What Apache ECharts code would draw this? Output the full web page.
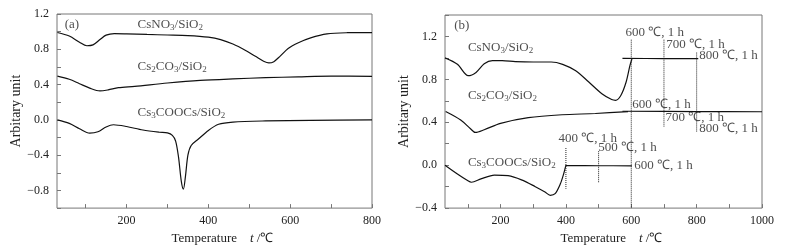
<!DOCTYPE html>
<html>
<head>
<meta charset="utf-8">
<script src="https://cdn.jsdelivr.net/npm/echarts@6/dist/echarts.min.js"></script>
<style>
  html, body { margin: 0; padding: 0; background: #fff; }
  #chart { width: 792px; height: 250px; }
</style>
</head>
<body>
<div id="chart"></div>
<script>
// panel (a): DTA curves, [temperature, signal]
var aNitrate = [[31,0.99],[60,0.95],[85,0.88],[103,0.84],[118,0.85],[135,0.91],[150,0.96],[170,0.978],[200,0.975],[250,0.968],[300,0.962],[350,0.955],[400,0.937],[430,0.91],[460,0.86],[490,0.79],[515,0.72],[535,0.665],[548,0.645],[560,0.66],[575,0.72],[595,0.81],[620,0.875],[650,0.93],[690,0.975],[740,0.988],[800,0.99]];
var aCarbonate = [[31,0.496],[60,0.46],[85,0.41],[110,0.36],[135,0.328],[155,0.34],[180,0.365],[220,0.38],[300,0.418],[380,0.448],[460,0.465],[540,0.478],[620,0.488],[700,0.496],[800,0.494]];
var aAcetate = [[31,0.0],[60,-0.04],[85,-0.1],[110,-0.15],[130,-0.135],[150,-0.08],[168,-0.055],[200,-0.075],[240,-0.115],[280,-0.14],[300,-0.148],[312,-0.175],[320,-0.24],[327,-0.42],[334,-0.7],[339,-0.785],[344,-0.64],[350,-0.4],[358,-0.29],[375,-0.22],[400,-0.12],[425,-0.05],[460,-0.025],[540,-0.012],[650,-0.005],[800,0.0]];

// panel (b): heating up to a hold temperature, then isothermal parts
var bNitrate = [[30,1.0],[68,0.94],[101,0.834],[125,0.865],[150,0.945],[175,0.975],[205,0.975],[245,0.966],[300,0.962],[355,0.962],[390,0.94],[430,0.88],[470,0.775],[510,0.666],[540,0.612],[552,0.605],[568,0.65],[584,0.773],[596,0.93],[602,0.99]];
var bNitrateHold = [[573,0.995],[700,0.994],[805,0.993]];
var bCarbonate = [[32,0.5],[78,0.421],[108,0.34],[123,0.305],[150,0.33],[200,0.39],[285,0.443],[388,0.47],[490,0.482],[590,0.5]];
var bCarbonateHold = [[573,0.503],[800,0.5],[1000,0.498]];
var bAcetate = [[30,0.0],[68,-0.082],[99,-0.143],[111,-0.159],[140,-0.128],[181,-0.092],[223,-0.098],[264,-0.137],[305,-0.198],[336,-0.25],[352,-0.281],[367,-0.266],[383,-0.174],[393,-0.082],[400,0.0]];
var bAcetateHold = [[400,-0.004],[500,-0.005],[602,-0.006]];

// dotted markers: [x, yTop, yBottom]
var bMarkers = [[400,0.16,-0.22],[500,0.13,-0.16],[600,1.17,-0.4],[700,1.17,0.36],[800,1.05,0.31]];

// text: [x, y, text]
var aLabels = [[49,1.08,'(a)'],[227,1.08,'CsNO{s|3}/SiO{s|2}'],[227,0.6,'Cs{s|2}CO{s|3}/SiO{s|2}'],[227,0.08,'Cs{s|3}COOCs/SiO{s|2}']];
var bLabels = [[58,1.3,'(b)'],[100,1.093,'CsNO{s|3}/SiO{s|2}'],[100,0.646,'Cs{s|2}CO{s|3}/SiO{s|2}'],[100,0.025,'Cs{s|3}COOCs/SiO{s|2}']];
var bHolds = [[582,1.24,'600 ℃, 1 h'],[707,1.12,'700 ℃, 1 h'],[808,1.02,'800 ℃, 1 h'],[603,0.565,'600 ℃, 1 h'],[705,0.446,'700 ℃, 1 h'],[808,0.34,'800 ℃, 1 h'],[377,0.247,'400 ℃, 1 h'],[499,0.162,'500 ℃, 1 h'],[609,-0.006,'600 ℃, 1 h']];

var aTicks = [100,200,300,400,500,600,700,800];
var aTickLabels = [200,400,600,800];
var bTicks = [100,200,300,400,500,600,700,800,900,1000];
var bTickLabels = [200,400,600,800,1000];

var font = 'Liberation Serif';
var frame = '#777';

function yLabel(v) {
    var q = v / 0.4;
    if (Math.abs(q - Math.round(q)) > 1e-6) return '';
    var s = Math.abs(v).toFixed(1);
    return v < -1e-9 ? '\u2212' + s : s;
}

function xAxisOf(idx, max, ticks, labels) {
    return {
        type: 'value', gridIndex: idx, min: 30, max: max,
        name: 'Temperature    {i|t} /℃', nameLocation: 'middle', nameGap: 21,
        nameTextStyle: { fontFamily: font, fontSize: 13, color: '#222', padding: [0, 0, 0, 16],
            rich: { i: { fontFamily: font, fontStyle: 'italic', fontSize: 13, color: '#222' } } },
        axisLine: { show: false, onZero: false },
        axisTick: { inside: true, length: 4, lineStyle: { color: frame }, customValues: ticks },
        axisLabel: { fontFamily: font, fontSize: 12, color: '#222', margin: 7, customValues: labels,
            formatter: function (v) { return String(v); } },
        splitLine: { show: false }
    };
}

function yAxisOf(idx, min, max, gap) {
    return {
        type: 'value', gridIndex: idx, min: min, max: max, interval: 0.2,
        name: 'Arbitary unit', nameLocation: 'middle', nameGap: gap,
        nameTextStyle: { fontFamily: font, fontSize: 14, color: '#222' },
        axisLine: { show: false, onZero: false },
        axisTick: { inside: true, length: 4, lineStyle: { color: frame } },
        axisLabel: { fontFamily: font, fontSize: 12, color: '#222', margin: 8, formatter: yLabel },
        splitLine: { show: false }
    };
}

function curve(idx, data) {
    return {
        type: 'line', xAxisIndex: idx, yAxisIndex: idx, data: data,
        showSymbol: false, smooth: 0.3, silent: true,
        lineStyle: { color: '#111', width: 1.2 }
    };
}

function texts(idx, data) {
    return {
        type: 'scatter', xAxisIndex: idx, yAxisIndex: idx, symbolSize: 0, silent: true,
        data: data.map(function (d) { return { value: [d[0], d[1]], name: d[2] }; }),
        label: {
            show: true, position: 'right', distance: 0, formatter: '{b}',
            fontFamily: font, fontSize: 13, color: '#222', lineHeight: 15,
            rich: { s: { fontFamily: font, fontSize: 9, lineHeight: 9, verticalAlign: 'bottom', color: '#222' } }
        }
    };
}

var series = [
    curve(0, aNitrate), curve(0, aCarbonate), curve(0, aAcetate),
    curve(1, bNitrate), curve(1, bNitrateHold), curve(1, bCarbonate),
    curve(1, bCarbonateHold), curve(1, bAcetate), curve(1, bAcetateHold),
    texts(0, aLabels), texts(1, bLabels), texts(1, bHolds)
];

bMarkers.forEach(function (m) {
    series.push({
        type: 'line', xAxisIndex: 1, yAxisIndex: 1, showSymbol: false, silent: true,
        data: [[m[0], m[1]], [m[0], m[2]]],
        lineStyle: { color: '#222', width: 1, type: 'dotted' }
    });
});

option = {
    animation: false,
    backgroundColor: '#fff',
    grid: [
        { left: 57, right: 420, top: 14, bottom: 40, show: true, borderColor: frame, borderWidth: 1 },
        { left: 445, right: 30, top: 15, bottom: 39, show: true, borderColor: frame, borderWidth: 1 }
    ],
    xAxis: [xAxisOf(0, 800, aTicks, aTickLabels), xAxisOf(1, 1000, bTicks, bTickLabels)],
    yAxis: [yAxisOf(0, -1.0, 1.2, 34), yAxisOf(1, -0.4, 1.4, 29)],
    series: series
};

var chart = echarts.init(document.getElementById('chart'));
chart.setOption(option);
</script>
</body>
</html>
